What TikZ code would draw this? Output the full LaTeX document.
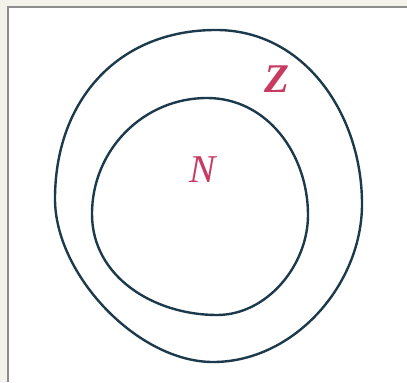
\documentclass[tikz,border=0pt]{standalone}
\usepackage{fontspec}
\setmainfont{Liberation Serif}
\usepackage{tikz}
\usetikzlibrary{positioning}
\definecolor{setline}{RGB}{28,58,76}
\definecolor{setlabel}{RGB}{200,58,98}
\definecolor{paper}{RGB}{243,243,236}
\definecolor{frameline}{RGB}{140,140,140}

\begin{document}
\begin{tikzpicture}[x=0.025cm, y=0.025cm,
  setcurve/.style={draw=setline, line width=1.7pt},
  setname/.style={text=setlabel, font=\fontsize{29}{32}\selectfont\bfseries\itshape, inner sep=0pt}]
\useasboundingbox (0, 0) rectangle (407, 382);
\fill[paper] (0, 0) rectangle (407, 382);
\fill[white] (8, 0) rectangle (407, 375);
\draw[frameline, line width=1.2pt] (8, 0) -- (8, 375) -- (407, 375);
% outer set Z
\draw[setcurve] (216, 352) to[out=0, in=90] (362, 178)
  to[out=-90, in=0, looseness=0.95] (213, 20)
  to[out=180, in=-90, looseness=0.85] (55, 183)
  to[out=90, in=180, looseness=1.08] cycle;
% inner set N
\draw[setcurve] (207, 284) to[out=0, in=90] (308, 167)
  to[out=-90, in=0, looseness=0.95] (217, 67)
  to[out=180, in=-90] (92, 168)
  to[out=90, in=180] cycle;
\node[setname] (Z) at (277, 303) {Z};
\node[setname, font=\fontsize{28}{30}\selectfont\itshape] (N) at (203, 212) {N};
\end{tikzpicture}
\end{document}
